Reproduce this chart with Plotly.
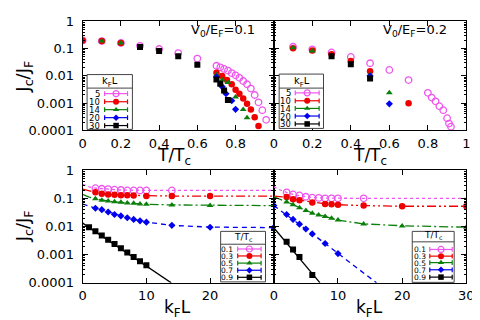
import plotly.graph_objects as go

# ---------------- data ----------------
kfl_labels = ["5", "10", "14", "20", "30"]
tt_labels = ["0.1", "0.3", "0.5", "0.7", "0.9"]

# top-left panel (V0/EF = 0.1): Jc/JF vs T/Tc for kF L = 5, 10, 14, 20, 30
tl_T5 = [0.0, 0.1, 0.2, 0.3, 0.4, 0.5, 0.6, 0.70, 0.72, 0.74, 0.76, 0.78, 0.80, 0.82,
         0.84, 0.86, 0.88, 0.90, 0.92, 0.94, 0.96]
tl_J5 = [0.20, 0.19, 0.162, 0.127, 0.097, 0.0685, 0.043, 0.0235, 0.0205, 0.0179, 0.0157,
         0.0126, 0.0105, 0.00845, 0.00648, 0.00492, 0.0034, 0.00198, 0.00107, 0.00055, 0.000244]
tl_T10 = [0.0, 0.1, 0.2, 0.70, 0.73, 0.755, 0.78, 0.80, 0.82, 0.84, 0.86, 0.88, 0.90, 0.92]
tl_J10 = [0.20, 0.19, 0.16, 0.0129, 0.0099, 0.0070, 0.0049, 0.0031, 0.0022, 0.00147,
          0.00094, 0.00058, 0.000304, 0.000143]
tl_T14 = [0.1, 0.2, 0.70, 0.73, 0.76, 0.80, 0.84, 0.86]
tl_J14 = [0.19, 0.16, 0.011, 0.0070, 0.00565, 0.00169, 0.00058, 0.000287]
tl_T20 = [0.70, 0.73, 0.75, 0.78, 0.80]
tl_J20 = [0.0090, 0.0040, 0.0022, 0.00122, 0.00059]
tl_T30 = [0.3, 0.4, 0.5, 0.6, 0.70, 0.72, 0.74, 0.76]
tl_J30 = [0.114, 0.082, 0.0525, 0.0255, 0.00736, 0.00508, 0.0029, 0.0013]

# top-right panel (V0/EF = 0.2)
tr_T5 = [0.1, 0.2, 0.3, 0.4, 0.5, 0.6, 0.7, 0.80, 0.82, 0.84, 0.86, 0.88, 0.90, 0.91, 0.92]
tr_J5 = [0.117, 0.0946, 0.0725, 0.0497, 0.029, 0.0165, 0.0070, 0.00239, 0.0016, 0.00116,
         0.00077, 0.00055, 0.00028, 0.000177, 0.000136]
tr_T10 = [0.1, 0.2, 0.3, 0.4, 0.5, 0.7]
tr_J10 = [0.104, 0.085, 0.062, 0.035, 0.0148, 0.00098]
tr_T14 = [0.1, 0.2, 0.5, 0.6]
tr_J14 = [0.108, 0.082, 0.0112, 0.00239]
tr_T20 = [0.5, 0.6]
tr_J20 = [0.0099, 0.00094]
tr_T30 = [0.3, 0.4, 0.5]
tr_J30 = [0.0525, 0.0267, 0.008]

# bottom-left panel (V0/EF = 0.1): Jc/JF vs kF L for T/Tc = 0.1, 0.3, 0.5, 0.7, 0.9
bl_L1 = [2, 3, 4, 5, 6, 7, 8, 9, 10, 14]
bl_J1 = [0.232, 0.222, 0.215, 0.205, 0.2, 0.194, 0.194, 0.194, 0.194, 0.194]
bl_L3 = [2, 3, 4, 5, 6, 7, 8, 10, 14, 20]
bl_J3 = [0.166, 0.146, 0.139, 0.135, 0.131, 0.131, 0.128, 0.122, 0.122, 0.122]
bl_L5 = [2, 3, 4, 5, 6, 7, 8, 9, 10, 14, 20]
bl_J5 = [0.098, 0.087, 0.082, 0.076, 0.073, 0.069, 0.067, 0.064, 0.062, 0.059, 0.0557]
bl_L7 = [2, 3, 4, 5, 6, 7, 8, 9, 10, 14, 20, 30]
bl_J7 = [0.045, 0.040, 0.033, 0.027, 0.024, 0.0207, 0.018, 0.016, 0.0144, 0.0111, 0.0095, 0.0092]
bl_L9 = [1, 2, 3, 4, 5, 6, 7, 8, 9, 10]
bl_J9 = [0.0095, 0.0068, 0.0048, 0.0034, 0.0024, 0.0017, 0.0012, 0.00083, 0.00059, 0.00042]
# fitted curves
bl_fL1 = [0, 1, 2, 3, 4, 6, 8, 10, 14, 20, 30]
bl_fJ1 = [0.32, 0.26, 0.233, 0.222, 0.213, 0.2, 0.196, 0.194, 0.194, 0.194, 0.194]
bl_fL3 = [0, 1, 2, 3, 4, 6, 8, 10, 14, 20, 30]
bl_fJ3 = [0.215, 0.185, 0.166, 0.148, 0.139, 0.131, 0.127, 0.124, 0.122, 0.122, 0.122]
bl_fL5 = [0, 1, 2, 3, 4, 6, 8, 10, 14, 20, 30]
bl_fJ5 = [0.139, 0.112, 0.098, 0.088, 0.081, 0.072, 0.066, 0.062, 0.059, 0.0565, 0.0557]
bl_fL7 = [0, 1, 2, 4, 6, 8, 10, 14, 20, 25, 30]
bl_fJ7 = [0.0636, 0.052, 0.045, 0.033, 0.0245, 0.018, 0.0145, 0.011, 0.0096, 0.0093, 0.0092]
bl_fL9 = [0, 13.9]
bl_fJ9 = [0.0133, 0.0001]

# bottom-right panel (V0/EF = 0.2)
br_L1 = [2, 3, 4, 5, 6, 7, 8, 9, 10, 14]
br_J1 = [0.165, 0.139, 0.128, 0.115, 0.107, 0.105, 0.101, 0.101, 0.101, 0.101]
br_L3 = [2, 3, 4, 6, 8, 9, 10, 14, 20, 30]
br_J3 = [0.112, 0.094, 0.087, 0.072, 0.0636, 0.0617, 0.060, 0.0557, 0.053, 0.053]
br_L5 = [2, 3, 4, 5, 6, 7, 8, 9, 10, 14, 20, 30]
br_J5 = [0.075, 0.060, 0.047, 0.037, 0.030, 0.026, 0.023, 0.020, 0.017, 0.0124, 0.0106, 0.0095]
br_L7 = [0, 2, 3, 4, 5, 6, 8, 10]
br_J7 = [0.0557, 0.027, 0.018, 0.0122, 0.0082, 0.0055, 0.0025, 0.0011]
br_L9 = [2, 3, 4, 6]
br_J9 = [0.0029, 0.00154, 0.00083, 0.00019]
br_fL1 = [0, 1, 2, 3, 4, 5, 6, 8, 10, 14, 20, 30]
br_fJ1 = [0.26, 0.2, 0.165, 0.139, 0.126, 0.115, 0.108, 0.103, 0.101, 0.101, 0.101, 0.101]
br_fL3 = [0, 2, 3, 4, 6, 8, 10, 14, 20, 30]
br_fJ3 = [0.122, 0.112, 0.095, 0.087, 0.073, 0.064, 0.06, 0.0557, 0.053, 0.053]
br_fL5 = [0, 1, 2, 3, 4, 5, 6, 8, 10, 14, 20, 30]
br_fJ5 = [0.115, 0.09, 0.075, 0.06, 0.047, 0.037, 0.030, 0.023, 0.017, 0.0125, 0.0107, 0.0095]
br_fL7 = [0, 1, 2, 4, 6, 8, 10, 12, 14, 16]
br_fJ7 = [0.0557, 0.038, 0.027, 0.0122, 0.0055, 0.0025, 0.0011, 0.0005, 0.00023, 0.0001]
br_fL9 = [0, 7.2]
br_fJ9 = [0.0091, 0.0001]

y_tickvals = [1, 0.1, 0.01, 0.001, 0.0001]
y_ticktext = ["1", "0.1", "0.01", "0.001", "0.0001"]
tx_left = [0, 0.2, 0.4, 0.6, 0.8]
tx_right = [0, 0.2, 0.4, 0.6, 0.8, 1]
kx_left = [0, 10, 20]
kx_right = [0, 10, 20, 30]

# ---------------- styles ----------------
COLORS = ["#ee55ee", "#ee0000", "#0a800a", "#0000ee", "#000000"]
SYMBOLS = ["circle-open", "circle", "triangle-up", "diamond", "square"]
SIZES = [6.5, 6.5, 6, 5.5, 6]
DASHES = ["dot", "9px,3px,2px,3px,2px,3px", "9px,3px,2px,3px", "5px,4px", "solid"]
FONT = "DejaVu Sans"

fig = go.Figure()


def add_pts(xs, ys, k, ax):
    open_ = SYMBOLS[k].endswith("open")
    fig.add_trace(go.Scatter(
        x=xs, y=ys, mode="markers", xaxis="x" + ax, yaxis="y" + ax, showlegend=False,
        marker=dict(symbol=SYMBOLS[k], size=SIZES[k], color=COLORS[k],
                    line=dict(color=COLORS[k], width=1.3 if open_ else 0))))


def add_line(xs, ys, k, ax):
    fig.add_trace(go.Scatter(
        x=xs, y=ys, mode="lines", xaxis="x" + ax, yaxis="y" + ax, showlegend=False,
        line=dict(color=COLORS[k], width=1.3, dash=DASHES[k])))


for k, (xs, ys) in enumerate([(tl_T5, tl_J5), (tl_T10, tl_J10), (tl_T14, tl_J14),
                               (tl_T20, tl_J20), (tl_T30, tl_J30)]):
    add_pts(xs, ys, k, "")
for k, (xs, ys) in enumerate([(tr_T5, tr_J5), (tr_T10, tr_J10), (tr_T14, tr_J14),
                               (tr_T20, tr_J20), (tr_T30, tr_J30)]):
    add_pts(xs, ys, k, "2")
for k, (xs, ys) in enumerate([(bl_fL1, bl_fJ1), (bl_fL3, bl_fJ3), (bl_fL5, bl_fJ5),
                               (bl_fL7, bl_fJ7), (bl_fL9, bl_fJ9)]):
    add_line(xs, ys, k, "3")
for k, (xs, ys) in enumerate([(bl_L1, bl_J1), (bl_L3, bl_J3), (bl_L5, bl_J5),
                               (bl_L7, bl_J7), (bl_L9, bl_J9)]):
    add_pts(xs, ys, k, "3")
for k, (xs, ys) in enumerate([(br_fL1, br_fJ1), (br_fL3, br_fJ3), (br_fL5, br_fJ5),
                               (br_fL7, br_fJ7), (br_fL9, br_fJ9)]):
    add_line(xs, ys, k, "4")
for k, (xs, ys) in enumerate([(br_L1, br_J1), (br_L3, br_J3), (br_L5, br_J5),
                               (br_L7, br_J7), (br_L9, br_J9)]):
    add_pts(xs, ys, k, "4")

# ---------------- axes ----------------
W, H = 480, 320
XL = [72.5 / W, 268.5 / W]
XR = [268.5 / W, 466 / W]
YT = [1 - 121 / H, 1 - 6.7 / H]
YB = [1 - 281 / H, 1 - 163 / H]

common = dict(showline=True, linecolor="black", linewidth=1, ticks="inside", ticklen=5,
              tickcolor="black", mirror="ticks", showgrid=False, zeroline=False,
              tickfont=dict(family=FONT, size=13, color="black"))


def xdef(domain, anchor, rng, vals):
    return dict(common, domain=domain, anchor=anchor, range=rng, tickmode="array",
                tickvals=vals, ticktext=[f"{v:g}" for v in vals], ticklabelstandoff=1)


def ydef(domain, anchor, labels):
    return dict(common, domain=domain, anchor=anchor, type="log", range=[-4, 0],
                tickmode="array", tickvals=y_tickvals, ticktext=y_ticktext,
                showticklabels=labels, ticklabelstandoff=5,
                minor=dict(ticks="inside", ticklen=2.5, tickcolor="black", dtick="D1",
                           showgrid=False))


fig.update_layout(
    xaxis=xdef(XL, "y", [0, 1], tx_left),
    yaxis=ydef(YT, "x", True),
    xaxis2=xdef(XR, "y2", [0, 1], tx_right),
    yaxis2=ydef(YT, "x2", False),
    xaxis3=xdef(XL, "y3", [0, 30], kx_left),
    yaxis3=ydef(YB, "x3", True),
    xaxis4=xdef(XR, "y4", [0, 30], kx_right),
    yaxis4=ydef(YB, "x4", False),
    xaxis5=dict(domain=[0, 1], range=[0, W], visible=False, anchor="y5"),
    yaxis5=dict(domain=[0, 1], range=[H, 0], visible=False, anchor="x5"),
)

# ---------------- legends (drawn by hand, gnuplot style) ----------------
LEGENDS = [
    dict(box=(77, 62.5, 123.5, 120), head="k<sub>F</sub>L", hx=100, hy=70, sep=76.7,
         rows=[82.5, 91, 99.3, 107.7, 116], lx=91, s0=95, s1=118.5, labels=kfl_labels,
         fs=8.5, hfs=10),
    dict(box=(274, 62, 319.5, 119), head="k<sub>F</sub>L", hx=297, hy=70, sep=76.7,
         rows=[81.7, 90, 98, 106, 114.3], lx=287, s0=290.5, s1=315, labels=kfl_labels,
         fs=8.5, hfs=10),
    dict(box=(214, 227, 260, 280), head="T/T<sub>c</sub>", hx=237, hy=233.5, sep=240.5,
         rows=[245.5, 252.8, 260.3, 267.8, 275.2], lx=228, s0=231.5, s1=255.5,
         labels=tt_labels, fs=7.5, hfs=9),
    dict(box=(410.5, 227, 453.5, 280.5), head="T/T<sub>c</sub>", hx=432, hy=231.5, sep=238,
         rows=[246, 253, 259.8, 267.3, 275], lx=426, s0=428.5, s1=451.5,
         labels=tt_labels, fs=7.5, hfs=9),
]

shapes = []
annotations = []
for lg in LEGENDS:
    x0, y0, x1, y1 = lg["box"]
    shapes.append(dict(type="rect", xref="x5", yref="y5", x0=x0, y0=y0, x1=x1, y1=y1,
                       line=dict(color="#444444", width=1), fillcolor="white", layer="below"))
    shapes.append(dict(type="line", xref="x5", yref="y5", x0=x0, x1=x1, y0=lg["sep"],
                       y1=lg["sep"], line=dict(color="#444444", width=1), layer="below"))
    annotations.append(dict(xref="x5", yref="y5", x=lg["hx"], y=lg["hy"], text=lg["head"],
                            showarrow=False, borderpad=0, height=lg["hfs"],
                            font=dict(family=FONT, size=lg["hfs"], color="black")))
    for k, (ry, lab) in enumerate(zip(lg["rows"], lg["labels"])):
        annotations.append(dict(xref="x5", yref="y5", x=lg["lx"], y=ry, text=lab,
                                xanchor="right", showarrow=False, borderpad=0,
                                height=lg["fs"] - 1.5,
                                font=dict(family=FONT, size=lg["fs"], color="black")))
        c = COLORS[k]
        shapes.append(dict(type="line", xref="x5", yref="y5", x0=lg["s0"], x1=lg["s1"],
                           y0=ry, y1=ry, line=dict(color=c, width=1.2), layer="below"))
        for sx in (lg["s0"], lg["s1"]):
            shapes.append(dict(type="line", xref="x5", yref="y5", x0=sx, x1=sx,
                               y0=ry - 2.5, y1=ry + 2.5, line=dict(color=c, width=1.2),
                               layer="below"))
        open_ = SYMBOLS[k].endswith("open")
        fig.add_trace(go.Scatter(
            x=[(lg["s0"] + lg["s1"]) / 2], y=[ry], mode="markers", xaxis="x5", yaxis="y5",
            showlegend=False,
            marker=dict(symbol=SYMBOLS[k], size=SIZES[k] - 0.5, color=c,
                        line=dict(color=c, width=1.2 if open_ else 0))))

# titles / labels
title_font = dict(family=FONT, size=17, color="black")
ytitle_font = dict(family=FONT, size=18, color="black")
annotations += [
    dict(xref="x5", yref="y5", x=12, y=65, text="J<sub>c</sub>/J<sub>F</sub>",
         textangle=-90, showarrow=False, font=ytitle_font),
    dict(xref="x5", yref="y5", x=12, y=222, text="J<sub>c</sub>/J<sub>F</sub>",
         textangle=-90, showarrow=False, font=ytitle_font),
    dict(xref="x5", yref="y5", x=166, y=148, text="T/T<sub>c</sub>", showarrow=False,
         font=title_font),
    dict(xref="x5", yref="y5", x=367, y=148, text="T/T<sub>c</sub>", showarrow=False,
         font=title_font),
    dict(xref="x5", yref="y5", x=170, y=308, text="k<sub>F</sub>L", showarrow=False,
         font=title_font),
    dict(xref="x5", yref="y5", x=367, y=308, text="k<sub>F</sub>L", showarrow=False,
         font=title_font),
    dict(xref="x5", yref="y5", x=251, y=16, text="V<sub>0</sub>/E<sub>F</sub>=0.1",
         xanchor="right", showarrow=False, font=dict(family=FONT, size=13, color="black")),
    dict(xref="x5", yref="y5", x=448, y=16, text="V<sub>0</sub>/E<sub>F</sub>=0.2",
         xanchor="right", showarrow=False, font=dict(family=FONT, size=13, color="black")),
]

fig.update_layout(
    width=W, height=H, margin=dict(l=0, r=0, t=0, b=0),
    paper_bgcolor="white", plot_bgcolor="rgba(0,0,0,0)",
    shapes=shapes, annotations=annotations, showlegend=False,
    font=dict(family=FONT, color="black"),
)

fig.write_html("out.html")
